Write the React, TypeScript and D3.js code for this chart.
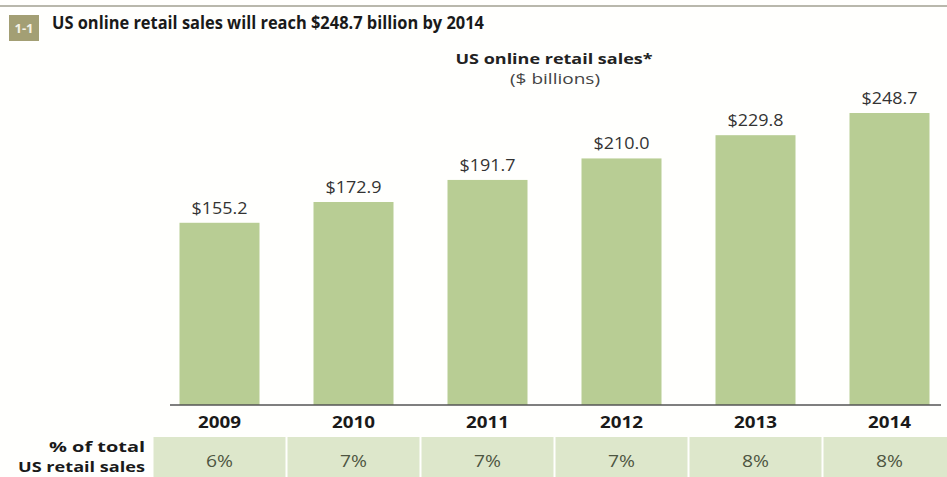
import React from 'react';
import * as d3 from 'd3';

// Chart data
const years = ['2009', '2010', '2011', '2012', '2013', '2014'];
const sales = [155.2, 172.9, 191.7, 210.0, 229.8, 248.7];
const shareOfRetail = ['6%', '7%', '7%', '7%', '8%', '8%'];

const WIDTH = 947;
const HEIGHT = 477;
const FONT = "'Open Sans', 'Noto Sans', sans-serif";

const BAR_COLOR = '#b8cd94';
const CELL_COLOR = '#dde7cb';

const App: React.FC = () => {
  const baseline = 405;

  // x positions: 134px pitch, 80px bars
  const xScale = d3.scaleBand<string>()
    .domain(years)
    .range([152.5, 152.5 + 6 * 134])
    .paddingInner(0.403)
    .paddingOuter(0.2015);

  const yScale = d3.scaleLinear()
    .domain([0, 248.7])
    .range([baseline, 113]);

  const step = xScale.step();
  const center = (y: string) => (xScale(y) ?? 0) + xScale.bandwidth() / 2;

  return (
    <svg
      width={WIDTH}
      height={HEIGHT}
      style={{ position: 'absolute', left: 0, top: 0, background: '#fffffd' }}
      fontFamily={FONT}
    >
      {/* top rule */}
      <line x1={0} x2={WIDTH} y1={6} y2={6} stroke="#b9b8ac" strokeWidth={2} />

      {/* header tag */}
      <rect x={9} y={15} width={30} height={26} fill="#a39f74" />
      <text x={24} y={33} textAnchor="middle" fontSize={13} fontWeight={700} fill="#f4f2e6">1-1</text>
      <text x={52} y={29} fontSize={17} fontWeight={700} fill="#1a1a1a"
        textLength={432} lengthAdjust="spacingAndGlyphs">
        US online retail sales will reach $248.7 billion by 2014
      </text>

      {/* chart title */}
      <text x={554} y={64} textAnchor="middle" fontSize={15} fontWeight={700} fill="#222"
        textLength={197} lengthAdjust="spacingAndGlyphs">
        US online retail sales*
      </text>
      <text x={555} y={84} textAnchor="middle" fontSize={15} fill="#444"
        textLength={90} lengthAdjust="spacingAndGlyphs">
        ($ billions)
      </text>

      {/* bars */}
      {years.map((yr, i) => (
        <g key={yr}>
          <rect
            x={xScale(yr)}
            y={yScale(sales[i])}
            width={xScale.bandwidth()}
            height={baseline - yScale(sales[i])}
            fill={BAR_COLOR}
          />
          <text x={center(yr)} y={yScale(sales[i]) - 9} textAnchor="middle"
            fontSize={15.5} fill="#333" textLength={56} lengthAdjust="spacingAndGlyphs">
            {`$${sales[i].toFixed(1)}`}
          </text>
          <text x={center(yr)} y={428} textAnchor="middle" fontSize={16} fontWeight={700}
            fill="#1a1a1a" textLength={43} lengthAdjust="spacingAndGlyphs">
            {yr}
          </text>
        </g>
      ))}

      {/* baseline */}
      <line x1={170} x2={941} y1={baseline} y2={baseline} stroke="#555" strokeWidth={1.5} />

      {/* share table */}
      {years.map((yr, i) => {
        const left = center(yr) - step / 2 + 1;
        const right = i === years.length - 1 ? WIDTH : center(yr) + step / 2 - 1;
        return (
          <g key={`cell-${yr}`}>
            <rect x={left} y={437} width={right - left} height={HEIGHT - 437} fill={CELL_COLOR} />
            <text x={center(yr)} y={467} textAnchor="middle" fontSize={17} fill="#4d5541"
              textLength={27} lengthAdjust="spacingAndGlyphs">
              {shareOfRetail[i]}
            </text>
          </g>
        );
      })}
      <text x={145} y={452} textAnchor="end" fontSize={15} fontWeight={700} fill="#1a1a1a"
        textLength={96} lengthAdjust="spacingAndGlyphs">
        % of total
      </text>
      <text x={145} y={472} textAnchor="end" fontSize={15} fontWeight={700} fill="#1a1a1a"
        textLength={127} lengthAdjust="spacingAndGlyphs">
        US retail sales
      </text>
    </svg>
  );
};

export default App;
